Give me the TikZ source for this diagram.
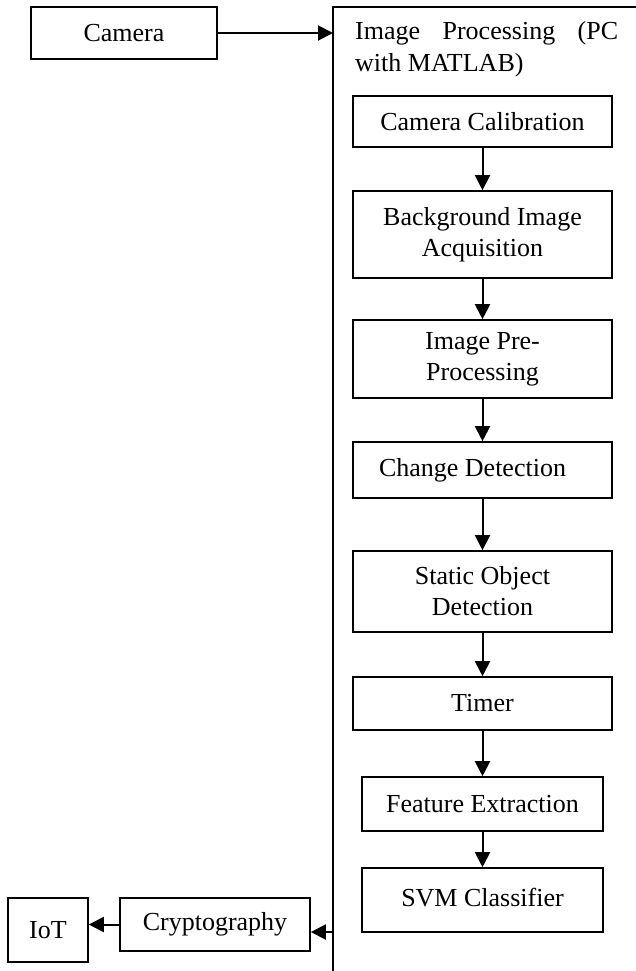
\documentclass[tikz,border=0pt]{standalone}
\usepackage{fontspec}
\setmainfont{Liberation Serif}
\usetikzlibrary{arrows.meta}
\tikzset{
  blk/.style={draw, line width=1.6pt, inner sep=0pt, align=center,
    font=\fontsize{26}{31}\selectfont},
  conn/.style={line width=2pt, -{Triangle[length=15pt,width=15pt]}},
  frame/.style={line width=1.4pt}
}
\begin{document}
\begin{tikzpicture}[x=1pt,y=1pt]
\useasboundingbox (0,0) rectangle (636,-971);
% outer frame (open to right and bottom)
\coordinate (fb) at (333,-971);
\coordinate (ftl) at (333,-7);
\coordinate (ftr) at (636,-7);
\draw[frame] (fb) -- (ftl) -- (ftr);
\coordinate (fin) at (333,-33);
\coordinate (fout) at (333,-932);
% title
\node[anchor=base west, inner sep=0pt, font=\fontsize{26}{31}\selectfont] (t1) at (355,-40) {\makebox[263pt][s]{Image Processing (PC}};
\node[anchor=base west, inner sep=0pt, font=\fontsize{26}{31}\selectfont] (t2) at (355,-72) {with MATLAB)};
% boxes
\node[blk, minimum width=186pt, minimum height=52pt] (camera) at (124,-33) {Camera};
\node[blk, minimum width=259pt, minimum height=51pt] (calib) at (482.5,-121.5) {Camera Calibration};
\node[blk, minimum width=259pt, minimum height=87pt] (bg) at (482.5,-234.5) {Background Image\\Acquisition};
\node[blk, minimum width=259pt, minimum height=78pt] (pre) at (482.5,-359) {Image Pre-\\Processing};
\node[blk, minimum width=259pt, minimum height=56pt] (change) at (482.5,-470) {Change Detection\hspace*{20pt}};
\node[blk, minimum width=259pt, minimum height=81pt] (static) at (482.5,-591.5) {Static Object\\Detection};
\node[blk, minimum width=259pt, minimum height=53pt] (timer) at (482.5,-703.5) {Timer};
\node[blk, minimum width=241pt, minimum height=54pt] (feature) at (482.5,-804) {Feature Extraction};
\node[blk, minimum width=241pt, minimum height=64pt] (svm) at (482.5,-900) {\raisebox{6pt}{SVM Classifier}};
\node[blk, minimum width=190pt, minimum height=53pt] (crypt) at (215,-924.5) {Cryptography};
\node[blk, minimum width=80pt, minimum height=64pt] (iot) at (48,-930) {IoT};
% connectors
\draw[conn] (camera.east) -- (fin);
\draw[conn] (calib.south) -- (bg.north);
\draw[conn] (bg.south) -- (pre.north);
\draw[conn] (pre.south) -- (change.north);
\draw[conn] (change.south) -- (static.north);
\draw[conn] (static.south) -- (timer.north);
\draw[conn] (timer.south) -- (feature.north);
\draw[conn] (feature.south) -- (svm.north);
\draw[conn] (fout) -- (crypt.east |- fout);
\draw[conn] (crypt.west) -- (iot.east |- crypt.west);
\end{tikzpicture}
\end{document}
